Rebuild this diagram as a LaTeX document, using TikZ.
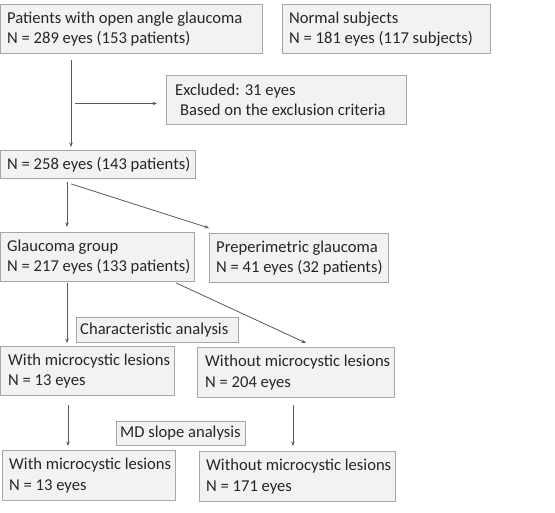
\documentclass[tikz,border=0pt]{standalone}
\usepackage{fontspec}
\setmainfont{Carlito}
\usetikzlibrary{arrows.meta}
\definecolor{boxfill}{HTML}{F2F2F2}
\definecolor{boxline}{HTML}{A6A6A6}
\definecolor{arrline}{HTML}{595959}
\definecolor{txt}{HTML}{262626}
% \flowbox{name}{left}{top}{width}{height}{text padding}{text}
\newcommand\flowbox[7]{%
  \node[boxframe, minimum width=#4pt, minimum height=#5pt] (#1) at (#2,#3) {};
  \node[boxtext] (#1-t) at ([xshift=#6pt]#1.west) {#7};}
\begin{document}
\begin{tikzpicture}[x=1pt,y=-1pt,
  boxframe/.style={draw=boxline, fill=boxfill, line width=0.9pt, anchor=north west, inner sep=0pt},
  boxtext/.style={anchor=west, inner sep=0pt, align=left, text=txt,
    font=\fontsize{16.6}{20.5}\selectfont},
  arr/.style={draw=arrline, line width=0.8pt, -{Stealth[length=4.5pt,width=3.5pt]}}]
\useasboundingbox (0,0) rectangle (555,513);
\flowbox{A}{0}{4}{262}{49}{7}{Patients with open angle glaucoma\\N = 289 eyes (153 patients)}
\flowbox{B}{282}{4}{208}{49}{7}{Normal subjects\\N = 181 eyes (117 subjects)}
\flowbox{Ex}{166}{75}{240}{49}{9}{Excluded: 31 eyes\\\hspace*{0.3em}Based on the exclusion criteria}
\flowbox{C}{0}{150}{195}{28}{7}{N = 258 eyes (143 patients)}
\flowbox{D}{0}{232}{194}{49}{7}{Glaucoma group\\N = 217 eyes (133 patients)}
\flowbox{E}{209}{233}{179}{49}{7}{Preperimetric glaucoma\\N = 41 eyes (32 patients)}
\flowbox{Ch}{76}{317}{162}{25}{4}{Characteristic analysis}
\flowbox{F}{0}{346}{174}{49}{8}{With microcystic lesions\\N = 13 eyes}
\flowbox{G}{197}{347}{197}{50}{8}{Without microcystic lesions\\N = 204 eyes}
\flowbox{MD}{116}{421}{129}{24}{4}{MD slope analysis}
\flowbox{H}{2}{450}{173}{50}{7}{With microcystic lesions\\N = 13 eyes}
\flowbox{I}{199}{451}{196}{50}{7}{Without microcystic lesions\\N = 171 eyes}
% connectors (node-relative shifts are in true points: negative = downwards)
\draw[arr] ([xshift=71pt,yshift=-6pt]A.south west) -- ([xshift=71pt,yshift=3pt]C.north west);
\draw[arr] ([xshift=-91pt,yshift=-3.5pt]Ex.west) -- ([xshift=-9pt,yshift=-3.5pt]Ex.west);
\draw[arr] ([xshift=67pt,yshift=-3pt]C.south west) -- ([xshift=67pt,yshift=5pt]D.north west);
\draw[arr] ([xshift=71pt,yshift=-5pt]C.south west) -- ([yshift=5pt]E.north west);
\draw[arr] ([xshift=67pt,yshift=-1pt]D.south west) -- ([xshift=67pt,yshift=3pt]F.north west);
\draw[arr] ([xshift=176pt,yshift=-1pt]D.south west) -- ([xshift=109pt,yshift=4pt]G.north west);
\draw[arr] ([xshift=68pt,yshift=-9pt]F.south west) -- ([xshift=66pt,yshift=4pt]H.north west);
\draw[arr] ([xshift=96pt,yshift=-7pt]G.south west) -- ([xshift=94pt,yshift=5pt]I.north west);
\end{tikzpicture}
\end{document}
